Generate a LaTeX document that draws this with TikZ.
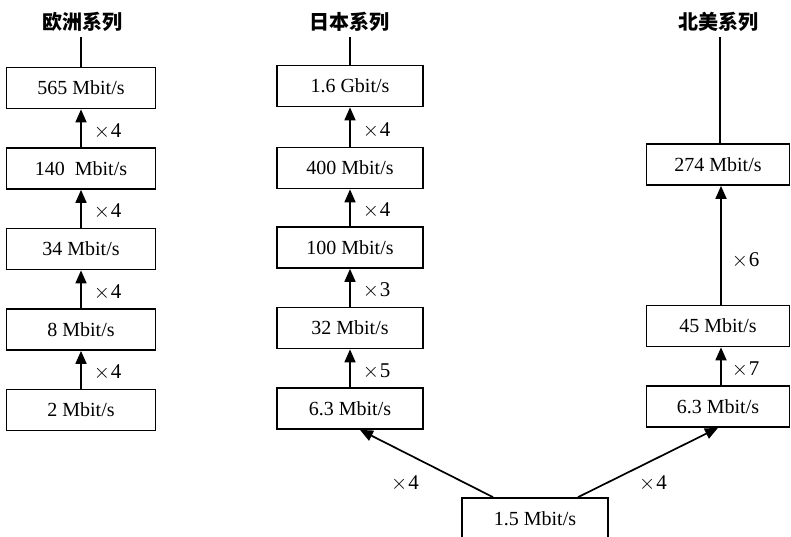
\documentclass[tikz,border=0pt]{standalone}
\usepackage{fontspec}
\setmainfont{Liberation Serif}
\newfontfamily\cjk{Noto Sans CJK SC}
\usetikzlibrary{arrows.meta}
\newcommand{\mx}[1]{$\times$\kern1pt#1}
\tikzset{
  ratebox/.style={draw, line width=1.7pt, minimum height=41pt, inner sep=0pt,
    font=\fontsize{20}{20}\selectfont},
  upar/.style={line width=1.7pt, -{Triangle[length=13pt,width=11pt]}},
  plain/.style={line width=1.7pt},
  mult/.style={font=\fontsize{21}{21}\selectfont, inner sep=0pt},
  ttl/.style={font=\cjk\bfseries\fontsize{20}{20}\selectfont, inner sep=0pt}
}
\begin{document}
\begin{tikzpicture}[x=1pt,y=-1pt]
\useasboundingbox (0,0) rectangle (791,537);
\clip (0,0) rectangle (791,537);
% titles
\node[ttl] (teu) at (82,22) {欧洲系列};
\node[ttl] (tjp) at (349,22) {日本系列};
\node[ttl] (tna) at (718,22) {北美系列};
% Europe
\node[ratebox, minimum width=149pt] (e565) at (81,88) {565 Mbit/s};
\node[ratebox, minimum width=149pt] (e140) at (81,168.5) {140\ \ Mbit/s};
\node[ratebox, minimum width=149pt] (e34) at (81,249) {34 Mbit/s};
\node[ratebox, minimum width=149pt] (e8) at (81,329.5) {8 Mbit/s};
\node[ratebox, minimum width=149pt] (e2) at (81,410) {2 Mbit/s};
% Japan
\node[ratebox, minimum width=146pt] (j16) at (350,86) {1.6 Gbit/s};
\node[ratebox, minimum width=146pt] (j400) at (350,168) {400 Mbit/s};
\node[ratebox, minimum width=146pt] (j100) at (350,247.5) {100 Mbit/s};
\node[ratebox, minimum width=146pt] (j32) at (350,328) {32 Mbit/s};
\node[ratebox, minimum width=146pt] (j63) at (350,408.5) {6.3 Mbit/s};
% North America
\node[ratebox, minimum width=143pt] (n274) at (718,164.5) {274 Mbit/s};
\node[ratebox, minimum width=143pt] (n45) at (718,326) {45 Mbit/s};
\node[ratebox, minimum width=143pt] (n63) at (718,406.5) {6.3 Mbit/s};
% base
\node[ratebox, minimum width=146pt] (b15) at (535,518.5) {1.5 Mbit/s};
% title lines
\draw[plain] (e565.north) -- ([yshift=-5pt]e565.north |- teu.south);
\draw[plain] (j16.north) -- ([yshift=-5pt]j16.north |- tjp.south);
\draw[plain] ([xshift=2pt]n274.north) -- ([xshift=2pt,yshift=-5pt]n274.north |- tna.south);
% Europe arrows
\draw[upar] (e140.north) -- node[mult, right=12pt, yshift=-3pt] {\mx{4}} (e565.south);
\draw[upar] (e34.north) -- node[mult, right=12pt, yshift=-3pt] {\mx{4}} (e140.south);
\draw[upar] (e8.north) -- node[mult, right=12pt, yshift=-3pt] {\mx{4}} (e34.south);
\draw[upar] (e2.north) -- node[mult, right=12pt, yshift=-3pt] {\mx{4}} (e8.south);
% Japan arrows
\draw[upar] (j400.north) -- node[mult, right=12pt, yshift=-3pt] {\mx{4}} (j16.south);
\draw[upar] (j100.north) -- node[mult, right=12pt, yshift=-3pt] {\mx{4}} (j400.south);
\draw[upar] (j32.north) -- node[mult, right=12pt, yshift=-3pt] {\mx{3}} (j100.south);
\draw[upar] (j63.north) -- node[mult, right=12pt, yshift=-3pt] {\mx{5}} (j32.south);
% NA arrows
\draw[upar] ([xshift=3pt]n45.north) -- node[mult, right=10pt, yshift=-15pt] {\mx{6}} ([xshift=3pt]n274.south);
\draw[upar] ([xshift=3pt]n63.north) -- node[mult, right=10pt, yshift=-3pt] {\mx{7}} ([xshift=3pt]n45.south);
% diagonal arrows
\draw[upar] ([xshift=-42pt]b15.north) -- ([xshift=10pt]j63.south);
\draw[upar] ([xshift=43pt]b15.north) -- (n63.south);
\node[mult] (lx1) at (405,483) {\mx{4}};
\node[mult] (lx2) at (653,483) {\mx{4}};
\end{tikzpicture}
\end{document}
